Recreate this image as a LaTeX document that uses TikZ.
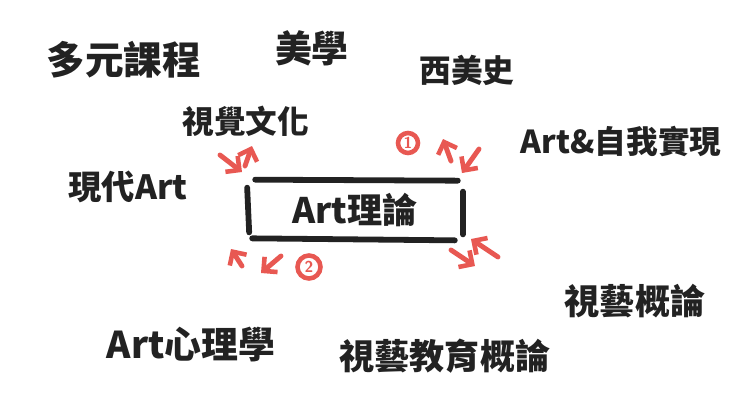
\documentclass[tikz,border=0pt]{standalone}
\usepackage{fontspec}
\newfontfamily\cjk{Noto Sans CJK TC}
\usetikzlibrary{arrows.meta}
\definecolor{ink}{RGB}{34,34,34}
\definecolor{marker}{RGB}{232,88,82}

\begin{document}
\begin{tikzpicture}[
    x=0.02cm, y=-0.02cm,
    word/.style={font=\cjk\bfseries\fontsize{#1}{#1}\selectfont, text=ink, inner sep=0pt},
    stroke/.style={ink, line width=3.3pt, line cap=round},
    redarrow/.style={-{Straight Barb[length=2mm, width=4mm, line width=2.6pt]}, marker, line width=2.8pt, line cap=round},
    num/.style={circle, draw=marker, line width=2.6pt, text=marker, inner sep=0pt, minimum size=#1, font=\sffamily\bfseries\small}
]
    \useasboundingbox (0,0) rectangle (735,414);

    % topics round the centre
    \node[word=22] (duoyuan) at (124,60) {多元課程};
    \node[word=21] (meixue) at (312,48) {美學};
    \node[word=18] (xishi) at (467,70) {西美史};
    \node[word=18] (shijue) at (246,121) {視覺文化};
    \node[word=18] (ziwo) at (621,141) {Art\&自我實現};
    \node[word=19] (xiandai) at (128,187) {現代Art};
    \node[word=20] (shiyi) at (635,301) {視藝概論};
    \node[word=21] (xinli) at (191,345) {Art心理學};
    \node[word=20] (jiaoyu) at (445,356) {視藝教育概論};

    % centre box
    \node[word=20, minimum width=4.3cm, minimum height=1.2cm] (art) at (355,210) {Art理論};
    \draw[stroke] ([shift={(8,0)}]art.north west) -- ([shift={(-5,1)}]art.north east);
    \draw[stroke] ([shift={(5,-2)}]art.south west) -- ([shift={(-8,0)}]art.south east);
    \draw[stroke] ([shift={(0,8)}]art.north west) -- ([shift={(2,-8)}]art.south west);
    \draw[stroke] ([shift={(0,12)}]art.north east) -- ([shift={(0,-6)}]art.south east);

    % red marks
    \coordinate (tl1) at (220,155);
    \coordinate (tl2) at (242,172);
    \coordinate (tl3) at (245,166);
    \coordinate (tl4) at (252,146);
    \coordinate (tr1) at (451,161);
    \coordinate (tr2) at (443,139);
    \coordinate (tr3) at (479,149);
    \coordinate (tr4) at (462,173);
    \coordinate (bl1) at (242,266);
    \coordinate (bl2) at (231,249);
    \coordinate (bl3) at (281,256);
    \coordinate (bl4) at (261,273);
    \coordinate (br1) at (498,257);
    \coordinate (br2) at (471,239);
    \coordinate (br3) at (451,250);
    \coordinate (br4) at (475,266);

    \draw[redarrow] (tl1) -- (tl2);
    \draw[redarrow] (tl3) -- (tl4);
    \draw[redarrow] (tr1) -- (tr2);
    \draw[redarrow] (tr3) -- (tr4);
    \draw[redarrow] (bl1) -- (bl2);
    \draw[redarrow] (bl3) -- (bl4);
    \draw[redarrow] (br1) -- (br2);
    \draw[redarrow] (br3) -- (br4);

    \node[num=0.4cm] (one) at (408,143) {1};
    \node[num=0.46cm] (two) at (309,267) {2};
\end{tikzpicture}
\end{document}
